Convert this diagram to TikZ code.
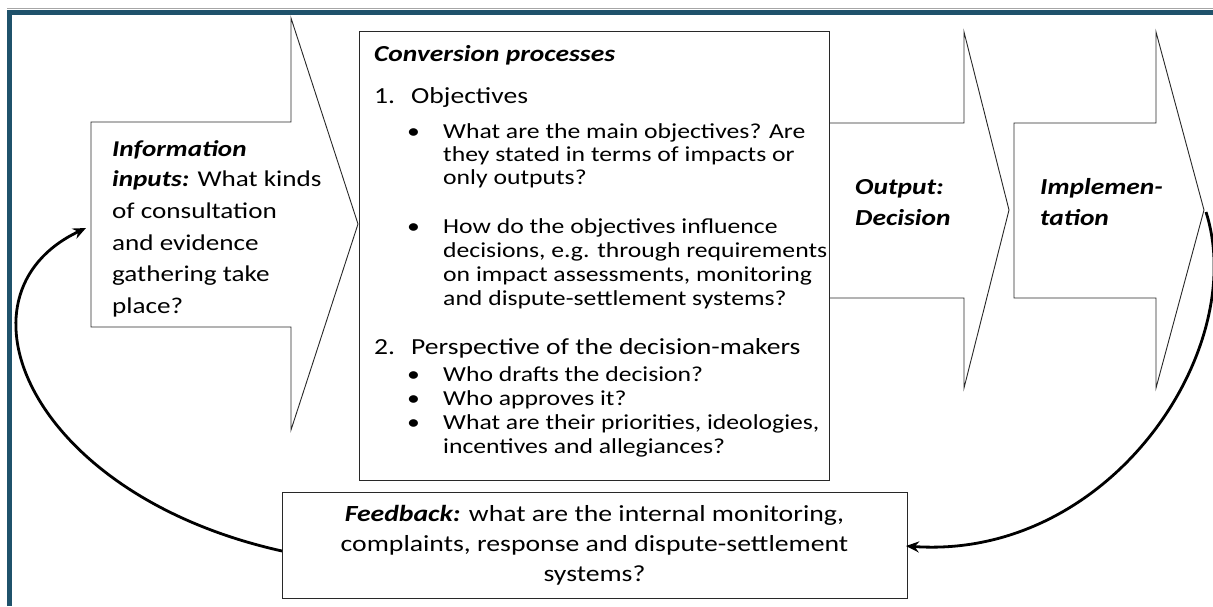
\documentclass[tikz,border=0pt]{standalone}
\usepackage{fontspec}
\setmainfont{Carlito}[FakeStretch=1.2]
\usetikzlibrary{arrows.meta}
\definecolor{frameblue}{RGB}{31,82,107}
\definecolor{linegray}{RGB}{40,40,40}
\begin{document}
\begin{tikzpicture}[x=1pt,y=-1pt,
  shapeline/.style={draw=linegray, line width=0.9pt, fill=white, line join=miter},
  big/.style={inner sep=0pt, anchor=base west, font=\fontsize{23}{26}\selectfont},
  small/.style={inner sep=0pt, anchor=base west, font=\fontsize{21.4}{24}\selectfont},
  intext/.style={inner sep=0pt, anchor=base west, font=\fontsize{22.6}{31}\selectfont},
  bi/.style={inner sep=0pt, anchor=base west, font=\fontsize{22.9}{31}\selectfont\bfseries\itshape},
  loop/.style={line width=2.8pt, draw=black, -{Stealth[length=13pt,width=11pt]}}]
\useasboundingbox (0,0) rectangle (1213,606);
% frame
\draw[draw=black!35, line width=0.8pt] (7,8.5) -- (1213,8.5);
\draw[draw=frameblue, line width=5pt] (9.5,606) -- (9.5,12.5) -- (1213,12.5);
% arrows
\draw[shapeline] (91,122) -- (291,122) -- (291,18) -- (358,224) -- (291,430) -- (291,327) -- (91,327) -- cycle;
\draw[shapeline] (829,123) -- (964,123) -- (964,32) -- (1009,210) -- (964,388) -- (964,298) -- (829,298) -- cycle;
\draw[shapeline] (1014,123) -- (1156,123) -- (1156,32) -- (1204,210) -- (1156,388) -- (1156,298) -- (1014,298) -- cycle;
% conversion box
\node[shapeline, minimum width=470pt, minimum height=449pt, inner sep=0pt] (conv) at (594,255.5) {};
\node[bi] (convt) at (374,61) {Conversion processes};
\node[big] (n1) at (374,103) {1.};
\node[big] (obj) at (411,103) {Objectives};
\node[small] (d1) at (407,138) {•};
\node[small] (a1) at (443,138) {What are the main objectives? Are};
\node[small] (a2) at (443,161) {they stated in terms of impacts or};
\node[small] (a3) at (443,184) {only outputs?};
\node[small] (d2) at (407,233) {•};
\node[small] (b1) at (443,233) {How do the objectives influence};
\node[small] (b2) at (443,257) {decisions, e.g. through requirements};
\node[small] (b3) at (443,281) {on impact assessments, monitoring};
\node[small] (b4) at (443,305) {and dispute-settlement systems?};
\node[big] (n2) at (374,354) {2.};
\node[big] (persp) at (411,354) {Perspective of the decision-makers};
\node[small] (d3) at (407,381) {•};
\node[small] (c1) at (443,381) {Who drafts the decision?};
\node[small] (d4) at (407,405) {•};
\node[small] (c2) at (443,405) {Who approves it?};
\node[small] (d5) at (407,429) {•};
\node[small] (c3) at (443,429) {What are their priorities, ideologies,};
\node[small] (c4) at (443,453) {incentives and allegiances?};
% input text
\node[intext] (i1) at (112,156) {\textbf{\textit{Information}}};
\node[intext] (i2) at (112,186) {\textbf{\textit{inputs:}} What kinds};
\node[intext] (i3) at (112,218) {of consultation};
\node[intext] (i4) at (112,250) {and evidence};
\node[intext] (i5) at (112,281) {gathering take};
\node[intext] (i6) at (112,313) {place?};
% output / implementation
\node[bi] (o1) at (855,194) {Output:};
\node[bi] (o2) at (855,225) {Decision};
\node[bi] (m1) at (1040,194) {Implemen-};
\node[bi] (m2) at (1040,225) {tation};
% feedback box
\node[shapeline, minimum width=625pt, minimum height=106pt, inner sep=0pt, align=center,
      font=\fontsize{23.1}{30}\selectfont] (fb) at (594.5,545)
  {\textbf{\textit{Feedback:}} what are the internal monitoring,\\complaints, response and dispute-settlement\\systems?};
% loop connectors
\coordinate (inTip) at (86,228);
\coordinate (impTip) at (1206,212);
\coordinate (fbIn) at (906,546);
\coordinate (fbOut) at (282,551);
\draw[loop] (fbOut) .. controls (30,495) and (-55,295) .. (inTip);
\draw[loop] (impTip) .. controls (1250,350) and (1110,560) .. (fbIn);
\end{tikzpicture}
\end{document}
